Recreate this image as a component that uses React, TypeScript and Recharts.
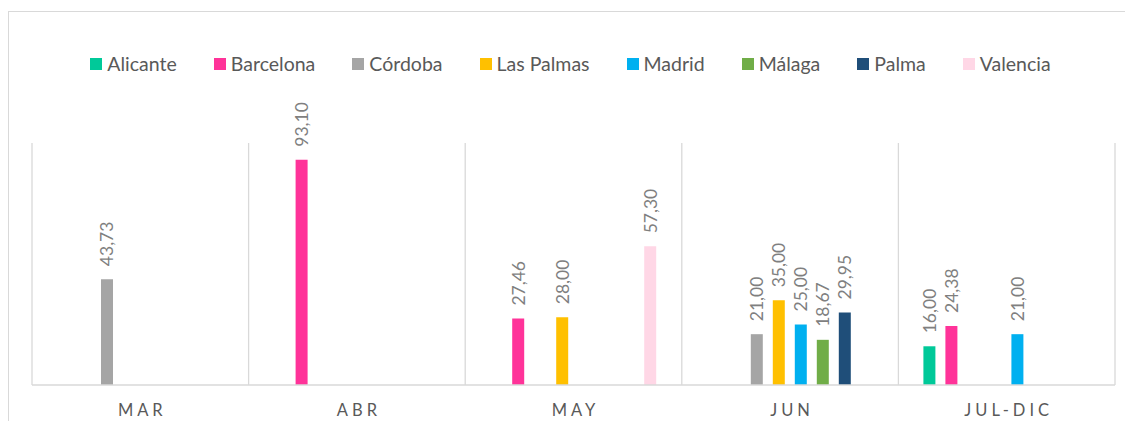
import React from 'react';
import { BarChart, Bar, XAxis, YAxis, CartesianGrid, Legend, LabelList } from 'recharts';

const categories = ['MAR', 'ABR', 'MAY', 'JUN', 'JUL-DIC'];
const seriesNames = ['Alicante', 'Barcelona', 'Córdoba', 'Las Palmas', 'Madrid', 'Málaga', 'Palma', 'Valencia'];
const seriesColors = ['#00C999', '#FF3399', '#A5A5A5', '#FFC000', '#00B0F0', '#70AD47', '#1F4E79', '#FFD7E6'];

const alicante = [null, null, null, null, 16.0];
const barcelona = [null, 93.1, 27.46, null, 24.38];
const cordoba = [43.73, null, null, 21.0, null];
const lasPalmas = [null, null, 28.0, 35.0, null];
const madrid = [null, null, null, 25.0, 21.0];
const malaga = [null, null, null, 18.67, null];
const palma = [null, null, null, 29.95, null];
const valencia = [null, null, 57.3, null, null];

const seriesValues = [alicante, barcelona, cordoba, lasPalmas, madrid, malaga, palma, valencia];

const data = categories.map((cat, i) => {
  const row: Record<string, any> = { category: cat };
  seriesNames.forEach((name, s) => {
    row[name] = seriesValues[s][i];
  });
  return row;
});

const FONT = 'Lato, "Open Sans", sans-serif';

const fmt = (v: number) => v.toFixed(2).replace('.', ',');

const BarLabel = (props: any) => {
  const { x, y, width, value } = props;
  if (value === null || value === undefined) return null;
  const cx = Number(x) + Number(width) / 2;
  const ty = Number(y) - 13;
  return (
    <text
      x={cx}
      y={ty}
      transform={`rotate(-90 ${cx} ${ty})`}
      textAnchor="start"
      dominantBaseline="central"
      fill="#7F7F7F"
      fontSize={17.5}
      fontFamily={FONT}
    >
      {fmt(Number(value))}
    </text>
  );
};

const AxisTick = (props: any) => {
  const { x, y, payload } = props;
  const spacing = 4;
  return (
    <text
      x={x}
      y={y + 31}
      dx={spacing / 2}
      textAnchor="middle"
      fill="#595959"
      fontSize={16.5}
      fontFamily={FONT}
      letterSpacing={spacing}
    >
      {payload.value}
    </text>
  );
};

const LegendContent = (props: any) => {
  const { payload } = props;
  return (
    <div style={{ display: 'flex', justifyContent: 'center', alignItems: 'center', gap: 37, height: 24 }}>
      {(payload || []).map((entry: any) => (
        <div key={entry.value} style={{ display: 'flex', alignItems: 'center' }}>
          <span style={{ display: 'inline-block', width: 12, height: 12, background: entry.color, marginRight: 5 }} />
          <span style={{ fontFamily: FONT, fontSize: 19.5, color: '#595959', lineHeight: '24px' }}>{entry.value}</span>
        </div>
      ))}
    </div>
  );
};

export default function App() {
  return (
    <div style={{ position: 'absolute', left: 0, top: 0, width: 1125, height: 421, overflow: 'hidden', background: '#fff' }}>
      <div
        style={{
          position: 'absolute',
          left: 8,
          top: 11,
          width: 1300,
          height: 600,
          border: '1px solid #D9D9D9',
          boxSizing: 'border-box',
        }}
      />
      <div style={{ position: 'absolute', left: 0, top: 0 }}>
        <BarChart
          width={1125}
          height={421}
          data={data}
          margin={{ top: 143, right: 10, bottom: 6, left: 32 }}
          barSize={12}
          barGap={10}
        >
          <CartesianGrid
            horizontal={false}
            stroke="#D9D9D9"
            strokeWidth={1.3}
            verticalCoordinatesGenerator={({ offset }: any) =>
              [0, 1, 2, 3, 4, 5].map((i) => offset.left + (i * offset.width) / categories.length)
            }
          />
          <XAxis
            dataKey="category"
            height={30}
            axisLine={{ stroke: '#D9D9D9', strokeWidth: 1.3 }}
            tickLine={false}
            tickSize={0}
            tickMargin={0}
            tick={<AxisTick />}
            interval={0}
          />
          <YAxis hide domain={[0, 100]} />
          <Legend
            layout="horizontal"
            verticalAlign="middle"
            align="center"
            content={<LegendContent />}
            wrapperStyle={{ position: 'absolute', top: 52, left: 8, width: 1125 }}
          />
          {seriesNames.map((name, s) => (
            <Bar key={name} dataKey={name} fill={seriesColors[s]} isAnimationActive={false}>
              <LabelList dataKey={name} content={<BarLabel />} />
            </Bar>
          ))}
        </BarChart>
      </div>
    </div>
  );
}
